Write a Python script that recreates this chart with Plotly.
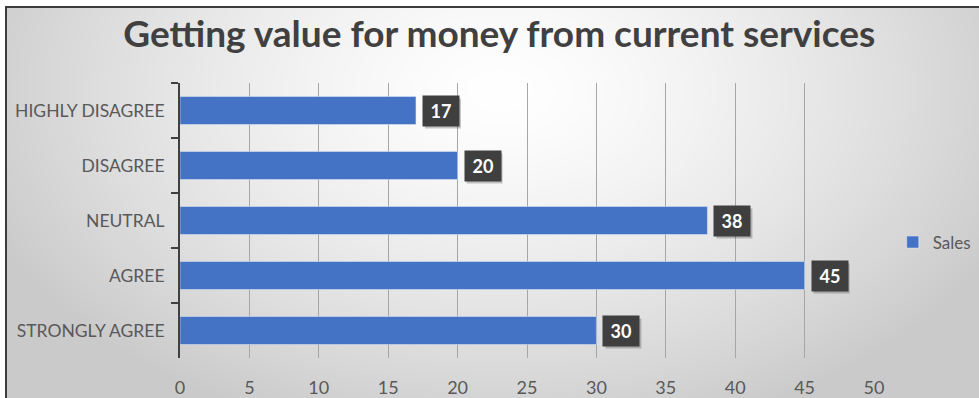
import base64, struct, zlib
import numpy as np
import plotly.graph_objects as go

categories = ["HIGHLY DISAGREE", "DISAGREE", "NEUTRAL", "AGREE", "STRONGLY AGREE"]
sales = [17, 20, 38, 45, 30]
x_ticks = [0, 5, 10, 15, 20, 25, 30, 35, 40, 45, 50]

W, H = 979, 398
ML, MR, MT, MB = 180, 105, 83, 40
PW, PH = W - ML - MR, H - MT - MB


def png_data_uri(arr):
    h, w = arr.shape
    raw = b"".join(b"\x00" + arr[r].astype(np.uint8).tobytes() for r in range(h))

    def chunk(tag, data):
        c = struct.pack(">I", len(data)) + tag + data
        return c + struct.pack(">I", zlib.crc32(tag + data) & 0xFFFFFFFF)

    png = b"\x89PNG\r\n\x1a\n" + chunk(b"IHDR", struct.pack(">IIBBBBB", w, h, 8, 0, 0, 0, 0))
    png += chunk(b"IDAT", zlib.compress(raw, 9)) + chunk(b"IEND", b"")
    return "data:image/png;base64," + base64.b64encode(png).decode()


yy, xx = np.mgrid[0:H, 0:W].astype(float)
d = np.sqrt(((xx - 500) / 560) ** 2 + ((yy - 90) / 360) ** 2)
d = np.clip(d, 0, 1)
bg = 255 - (255 - 202) * d ** 1.4
bg[6:8, 5:] = 60
bg[6:, 5:7] = 60
bg[:6, :] = 255
bg[:, :5] = 255
bg = np.clip(bg, 0, 255)

fig = go.Figure()
fig.add_trace(go.Bar(
    x=sales, y=categories, orientation="h", name="Sales",
    marker=dict(color="#4472C4"), showlegend=True,
))

BOX_W, BOX_H = 36, 30
for v, c in zip(sales, categories):
    fig.add_shape(type="rect", xref="x", yref="y", xsizemode="pixel", ysizemode="pixel",
                  xanchor=v, yanchor=c, x0=9, x1=9 + BOX_W, y0=-BOX_H / 2 - 3, y1=BOX_H / 2 - 3,
                  fillcolor="rgba(0,0,0,0.22)", line=dict(width=0), layer="above")
    fig.add_annotation(x=v, y=c, xref="x", yref="y", text=f"<b>{v}</b>",
                       showarrow=False, xanchor="left", xshift=6,
                       width=BOX_W, height=BOX_H, borderpad=0, align="center",
                       bgcolor="#3f3f3f",
                       font=dict(family="Lato", size=18, color="white"))

fig.add_layout_image(dict(
    source=png_data_uri(bg), xref="paper", yref="paper",
    x=-ML / PW, y=1 + MT / PH, sizex=W / PW, sizey=H / PH,
    xanchor="left", yanchor="top", sizing="stretch", layer="below",
))

fig.update_layout(
    width=W, height=H,
    margin=dict(l=ML, r=MR, t=MT, b=MB, autoexpand=False),
    paper_bgcolor="rgba(0,0,0,0)", plot_bgcolor="rgba(0,0,0,0)",
    font=dict(family="Lato", color="#595959"),
    title=dict(text="<b>Getting value for money from current services</b>",
               x=0.51, xanchor="center", y=0.915, yanchor="middle",
               font=dict(family="Lato", size=37, color="#404040")),
    bargap=0.49,
    legend=dict(x=1.027, y=0.42, xanchor="left", yanchor="middle",
                bgcolor="rgba(0,0,0,0)", font=dict(size=17, color="#595959"),
                itemwidth=30),
    xaxis=dict(range=[0, 50], tickvals=x_ticks, showgrid=True, gridcolor="#a6a6a6",
               gridwidth=1, zeroline=False, showline=False, ticks="",
               automargin=False,
               tickfont=dict(size=18, color="#595959"), ticklabelstandoff=17),
    yaxis=dict(categoryorder="array", categoryarray=categories, autorange="reversed",
               showline=True, linecolor="#404040", linewidth=2,
               ticks="outside", tickson="boundaries", ticklen=7, tickwidth=2,
               automargin=False,
               tickcolor="#404040", tickfont=dict(size=17.5, color="#595959"),
               ticklabelstandoff=10, showgrid=False),
)

fig.write_html("out.html")
